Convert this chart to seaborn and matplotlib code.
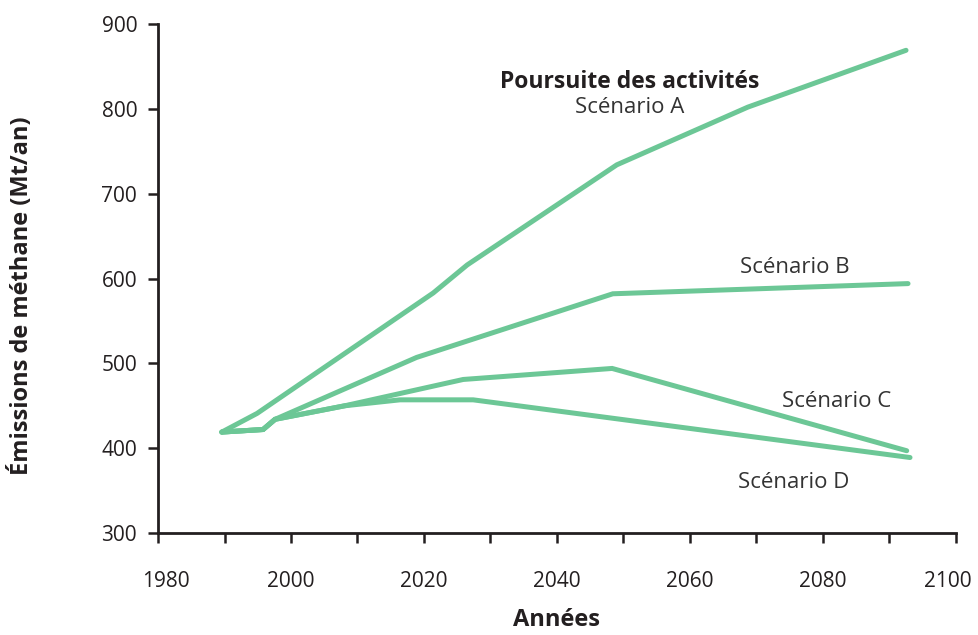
import pandas as pd
import numpy as np
import matplotlib.pyplot as plt
import matplotlib.transforms as mtransforms
import seaborn as sns

# Valeurs (années, émissions de méthane en Mt/an)
annees_a = [1989.6, 1994.9, 2021.4, 2026.5, 2049.0, 2068.7, 2092.5]
valeurs_a = [419, 441, 583, 616, 734, 802, 869]
annees_b = [1989.6, 1995.8, 1997.6, 2018.9, 2048.4, 2092.8]
valeurs_b = [419, 422, 434, 507, 582, 594]
annees_c = [1989.6, 1995.8, 1997.6, 2008.1, 2025.9, 2048.3, 2092.6]
valeurs_c = [419, 422, 434, 450, 481, 494, 397]
annees_d = [1989.6, 1995.8, 1997.6, 2008.1, 2016.4, 2027.4, 2093.1]
valeurs_d = [419, 422, 434, 450, 457, 457, 389]

scenarios = ['Scénario A', 'Scénario B', 'Scénario C', 'Scénario D']
x_ticks = list(range(1980, 2101, 10))
x_labels = [str(t) if t % 20 == 0 else '' for t in x_ticks]
y_ticks = [300, 400, 500, 600, 700, 800, 900]

# Tableau long pour seaborn
frames = []
for nom, xs, ys in zip(scenarios, [annees_a, annees_b, annees_c, annees_d],
                       [valeurs_a, valeurs_b, valeurs_c, valeurs_d]):
    frames.append(pd.DataFrame({'annee': xs, 'emissions': ys, 'scenario': nom}))
df = pd.concat(frames, ignore_index=True)

sns.set_style('ticks')
plt.rcParams['font.family'] = ['Open Sans', 'DejaVu Sans']

vert = '#6cc796'
encre = '#231f20'

fig = plt.figure(figsize=(9.79, 6.35), dpi=100)
ax = fig.add_axes([0.1614, 0.1606, 0.815, 0.8016])

for nom in scenarios:
    sns.lineplot(data=df[df['scenario'] == nom], x='annee', y='emissions',
                 estimator=None, sort=False, color=vert, linewidth=3.6,
                 solid_joinstyle='miter', ax=ax)

ax.set_xlim(1980, 2100)
ax.set_ylim(300, 900)
ax.set_xticks(x_ticks)
ax.set_xticklabels(x_labels)
ax.set_yticks(y_ticks)
ax.tick_params(axis='x', length=7, width=1.8, color=encre, pad=20,
               labelsize=15, labelcolor=encre)
ax.tick_params(axis='y', length=7, width=1.8, color=encre, pad=8,
               labelsize=15, labelcolor=encre)
for s in ['left', 'bottom']:
    ax.spines[s].set_linewidth(2)
    ax.spines[s].set_color(encre)
sns.despine(ax=ax)

# les étiquettes extrêmes sont légèrement rentrées, comme sur l'original
labels = ax.get_xticklabels()
for lab, dx in [(labels[0], 8), (labels[-1], -8)]:
    lab.set_transform(lab.get_transform() +
                      mtransforms.ScaledTranslation(dx / 100, 0, fig.dpi_scale_trans))

ax.set_xlabel('Années', fontsize=17, fontweight='bold', color=encre, labelpad=12)
ax.set_ylabel('Émissions de méthane (Mt/an)', fontsize=17, fontweight='bold',
              color=encre)
ax.yaxis.set_label_coords(-0.156, 0.466)

ax.text(2051, 832, 'Poursuite des activités', ha='center', va='center',
        fontsize=16.5, fontweight='bold', color=encre)
ax.text(2051, 801, 'Scénario A', ha='center', va='center', fontsize=16,
        color='#333333')
ax.text(2075.8, 613, 'Scénario B', ha='center', va='center', fontsize=16,
        color='#333333')
ax.text(2082.1, 455, 'Scénario C', ha='center', va='center', fontsize=16,
        color='#333333')
ax.text(2075.6, 360, 'Scénario D', ha='center', va='center', fontsize=16,
        color='#333333')

fig.savefig('out.png', dpi=100)
